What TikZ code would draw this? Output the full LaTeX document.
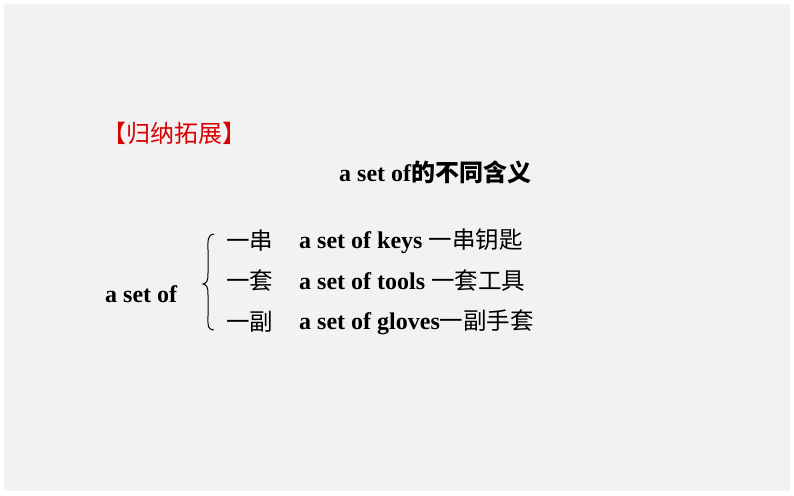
\documentclass[tikz,border=0pt]{standalone}
\usepackage{fontspec}
\setmainfont{Liberation Serif}
\newfontfamily\cjk{Noto Sans CJK SC}
\newcommand\latf{\fontsize{24}{26}\selectfont\bfseries}
\newcommand\chf{\fontsize{23.5}{26}\selectfont\mdseries\cjk}
\begin{document}
\begin{tikzpicture}[x=1pt,y=-1pt,
  row/.style={inner sep=0pt,anchor=west}]
\fill[white] (0,0) rectangle (794,495);
\fill[black!5] (4,4) rectangle (790,491);
\useasboundingbox (0,0) rectangle (794,495);
\node[row,text=red!85!black] (title) at (102,133) {\fontsize{24}{26}\selectfont\cjk 【归纳拓展】};
\node[row] (sub) at (339,172) {\latf a set of\fontsize{24}{26}\selectfont\cjk\bfseries 的不同含义};
\node[row] (aso) at (105,294) {\latf a set of};
\node[row] (m1) at (226,241) {\chf 一串};
\node[row] (m2) at (226,281) {\chf 一套};
\node[row] (m3) at (226,322) {\chf 一副};
\node[row] (e1) at (299,241) {\latf a set of keys \chf 一串钥匙};
\node[row] (e2) at (299,281) {\latf a set of tools \chf 一套工具};
\node[row] (e3) at (299,322) {\latf a set of gloves\chf 一副手套};
\draw[line width=1pt] (214,234) .. controls (207,235) and (208,241) .. (208,250)
  -- (208,273) .. controls (208,281) and (207,283) .. (203,284)
  .. controls (207,285) and (208,287) .. (208,295) -- (208,316)
  .. controls (208,326) and (207,329) .. (214,330);
\end{tikzpicture}
\end{document}
